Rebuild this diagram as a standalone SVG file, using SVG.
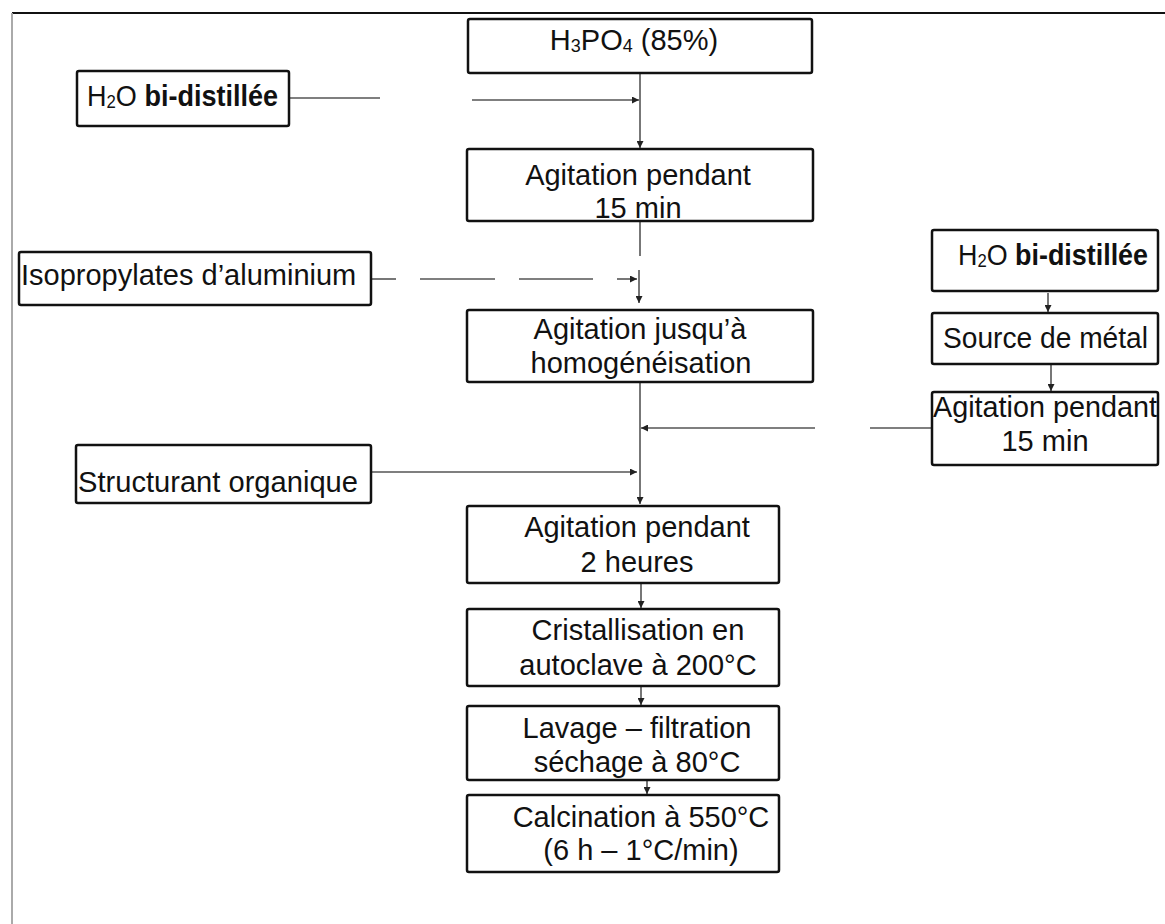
<svg xmlns="http://www.w3.org/2000/svg" width="1165" height="924" viewBox="0 0 1165 924">
<defs>
<marker id="ah" viewBox="0 0 10 10" refX="10" refY="5" markerWidth="9" markerHeight="7" markerUnits="userSpaceOnUse" orient="auto">
<path d="M0,0 L10,5 L0,10 z" fill="#222"/>
</marker>
</defs>
<style>
.box{fill:#fff;stroke:#111;stroke-width:2.5}
.t{font-family:"Liberation Sans",Arial,sans-serif;font-size:29px;fill:#111}
.c{text-anchor:middle}
.b{font-weight:bold}
.ln{stroke:#555;stroke-width:1.6;fill:none}
.ar{stroke:#555;stroke-width:1.6;fill:none;marker-end:url(#ah)}
.sub{font-size:18px}
</style>
<rect width="1165" height="924" fill="#fff"/>
<line x1="12" y1="13" x2="1165" y2="13" stroke="#111" stroke-width="2"/>
<line x1="12" y1="13" x2="12" y2="924" stroke="#aaa" stroke-width="2"/>

<g id="connectors">
<line class="ln" x1="289" y1="98" x2="380" y2="98"/>
<line class="ar" x1="472" y1="100" x2="639" y2="100"/>
<line class="ar" x1="640" y1="73" x2="640" y2="148"/>
<line class="ln" x1="640" y1="221" x2="640" y2="256"/>
<line class="ar" x1="639" y1="270" x2="639" y2="303"/>
<line class="ln" x1="371" y1="279" x2="396" y2="279"/>
<line class="ln" x1="420" y1="279" x2="495" y2="279"/>
<line class="ln" x1="519" y1="279" x2="593" y2="279"/>
<line class="ar" x1="617" y1="279" x2="637" y2="279"/>
<line class="ar" x1="640" y1="382" x2="640" y2="504"/>
<line class="ar" x1="815" y1="428" x2="641" y2="428"/>
<line class="ln" x1="870" y1="428" x2="932" y2="428"/>
<line class="ar" x1="371" y1="472" x2="637" y2="472"/>
<line class="ar" x1="641" y1="583" x2="641" y2="608"/>
<line class="ar" x1="641" y1="686" x2="641" y2="705"/>
<line class="ar" x1="647" y1="780" x2="647" y2="794"/>
<line class="ar" x1="1048" y1="293" x2="1048" y2="312"/>
<line class="ar" x1="1051" y1="364" x2="1051" y2="391"/>
</g>

<g id="h3po4">
<rect class="box" x="468" y="19" width="344" height="54" rx="2"/>
<text class="t c" x="634" y="50">H<tspan class="sub" dy="2">3</tspan><tspan dy="-2">PO</tspan><tspan class="sub" dy="2">4</tspan><tspan dy="-2"> (85%)</tspan></text>
</g>

<g id="h2o-left">
<rect class="box" x="77" y="71" width="212" height="55" rx="2"/>
<text class="t" x="87" y="106" textLength="191" lengthAdjust="spacingAndGlyphs">H<tspan class="sub" dy="2">2</tspan><tspan dy="-2">O </tspan><tspan class="b">bi-distillée</tspan></text>
</g>

<g id="agit15">
<rect class="box" x="467" y="149" width="346" height="72" rx="2"/>
<text class="t c" x="638" y="185">Agitation pendant</text>
<text class="t c" x="638" y="218">15 min</text>
</g>

<g id="isopropylates">
<rect class="box" x="19" y="252" width="352" height="53" rx="2"/>
<text class="t" x="21" y="285">Isopropylates d’aluminium</text>
</g>

<g id="agit-homog">
<rect class="box" x="467" y="310" width="346" height="72" rx="2"/>
<text class="t c" x="640" y="339">Agitation jusqu’à</text>
<text class="t c" x="641" y="373">homogénéisation</text>
</g>

<g id="h2o-right">
<rect class="box" x="932" y="230" width="226" height="61" rx="2"/>
<text class="t" x="958" y="265" textLength="190" lengthAdjust="spacingAndGlyphs">H<tspan class="sub" dy="2">2</tspan><tspan dy="-2">O </tspan><tspan class="b">bi-distillée</tspan></text>
</g>

<g id="source-metal">
<rect class="box" x="932" y="313" width="226" height="51" rx="2"/>
<text class="t" x="943" y="348" textLength="205" lengthAdjust="spacingAndGlyphs">Source de métal</text>
</g>

<g id="agit15-right">
<rect class="box" x="932" y="392" width="226" height="73" rx="2"/>
<text class="t c" x="1045" y="417" textLength="224" lengthAdjust="spacingAndGlyphs">Agitation pendant</text>
<text class="t c" x="1045" y="451">15 min</text>
</g>

<g id="structurant">
<rect class="box" x="76" y="445" width="295" height="58" rx="2"/>
<text class="t" x="78" y="492" textLength="280" lengthAdjust="spacingAndGlyphs">Structurant organique</text>
</g>

<g id="agit2h">
<rect class="box" x="467" y="506" width="312" height="77" rx="2"/>
<text class="t c" x="637" y="537">Agitation pendant</text>
<text class="t c" x="637" y="572">2 heures</text>
</g>

<g id="cristallisation">
<rect class="box" x="467" y="609" width="312" height="77" rx="2"/>
<text class="t c" x="638" y="640">Cristallisation en</text>
<text class="t c" x="638" y="675">autoclave à 200°C</text>
</g>

<g id="lavage">
<rect class="box" x="467" y="706" width="312" height="74" rx="2"/>
<text class="t c" x="637" y="738">Lavage – filtration</text>
<text class="t c" x="637" y="772">séchage à 80°C</text>
</g>

<g id="calcination">
<rect class="box" x="467" y="795" width="312" height="77" rx="2"/>
<text class="t c" x="641" y="827">Calcination à 550°C</text>
<text class="t c" x="641" y="860">(6 h – 1°C/min)</text>
</g>
</svg>
